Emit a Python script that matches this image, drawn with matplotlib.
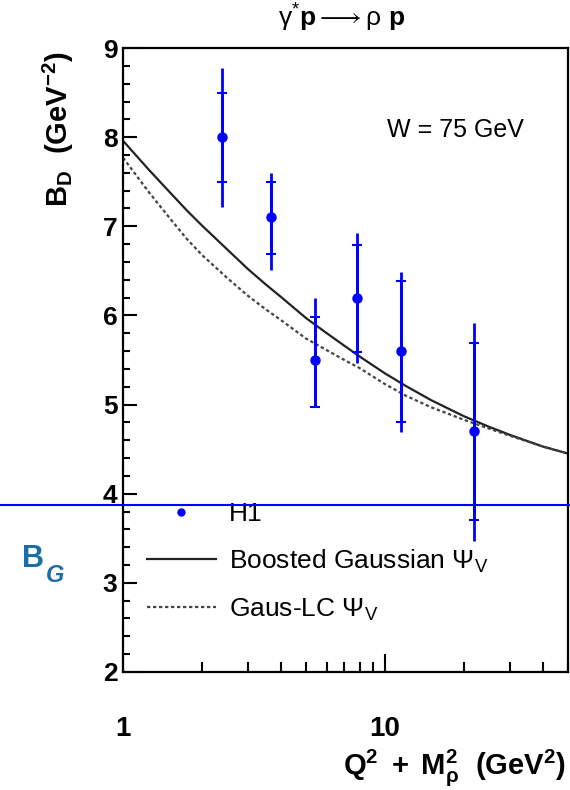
import numpy as np
import matplotlib
matplotlib.use('Agg')
import matplotlib.pyplot as plt
import matplotlib.ticker as ticker
import matplotlib.transforms as mtransforms
from matplotlib.lines import Line2D

plt.rcParams['font.family'] = ['Liberation Sans', 'DejaVu Sans']
plt.rcParams['mathtext.fontset'] = 'custom'
plt.rcParams['mathtext.rm'] = 'Liberation Sans'
plt.rcParams['mathtext.it'] = 'Liberation Sans:italic'
plt.rcParams['mathtext.bf'] = 'Liberation Sans:bold'

# H1 data, W = 75 GeV
q2m2 = [2.39, 3.67, 5.4, 7.8, 11.5, 21.9]
bd = [8.0, 7.1, 5.5, 6.2, 5.6, 4.7]
stat_up = [0.5, 0.4, 0.48, 0.59, 0.79, 0.99]
stat_dn = [0.5, 0.41, 0.53, 0.61, 0.8, 0.99]
tot_up = [0.78, 0.5, 0.7, 0.73, 0.89, 1.22]
tot_dn = [0.78, 0.59, 0.53, 0.73, 0.91, 1.23]

# model curves
model_x = [1, 1.25, 1.5, 1.75, 2, 2.5, 3, 3.5, 4, 5, 6, 7, 8, 10, 12, 15,
           20, 25, 30, 40, 50]
boosted = [7.96, 7.64, 7.39, 7.18, 7.01, 6.74, 6.52, 6.35, 6.21, 5.97, 5.80,
           5.66, 5.54, 5.35, 5.21, 5.05, 4.87, 4.75, 4.66, 4.53, 4.45]
gauslc = [7.77, 7.39, 7.10, 6.86, 6.68, 6.42, 6.22, 6.07, 5.95, 5.74, 5.61,
          5.50, 5.41, 5.23, 5.10, 4.97, 4.83, 4.73, 4.65, 4.53, 4.45]

b_g = 3.87  # B_G level

fig = plt.figure(figsize=(5.7, 7.9), dpi=100)
ax = fig.add_axes([0.2158, 0.1494, 0.7807, 0.7898])

ax.plot(model_x, boosted, color='#222222', lw=1.6)
ax.plot(model_x, gauslc, color='#444444', lw=1.6, ls=(0, (1.5, 1.2)))

ax.errorbar(q2m2, bd, yerr=[tot_dn, tot_up], fmt='none', ecolor='#0000ff',
            elinewidth=2, capsize=0)
ax.errorbar(q2m2, bd, yerr=[stat_dn, stat_up], fmt='o', color='#0000ff',
            ms=6.5, elinewidth=2, capsize=3.5, capthick=1.5)

ax.set_xscale('log')
ax.set_xlim(1, 50)
ax.set_ylim(2, 9)

ax.xaxis.set_major_locator(ticker.FixedLocator([1, 10]))
ax.xaxis.set_minor_locator(ticker.LogLocator(base=10, subs=np.arange(2, 10)))
ax.xaxis.set_major_formatter(ticker.FuncFormatter(lambda v, p: '%d' % v))
ax.xaxis.set_minor_formatter(ticker.NullFormatter())
ax.yaxis.set_major_locator(ticker.MultipleLocator(1))
ax.yaxis.set_minor_locator(ticker.MultipleLocator(0.2))

ax.tick_params(axis='both', which='both', direction='in', width=1.5,
               top=False, right=False)
ax.tick_params(axis='y', which='major', length=10, labelsize=19, pad=4)
ax.tick_params(axis='y', which='minor', length=5)
ax.tick_params(axis='x', which='major', length=13, labelsize=20, pad=32)
ax.tick_params(axis='x', which='minor', length=7)
for lab in ax.get_xticklabels() + ax.get_yticklabels():
    lab.set_fontweight('bold')
for s in ax.spines.values():
    s.set_linewidth(1.6)

ax.set_ylabel(r'$\mathbf{B_D\ \ (GeV^{-2})}$', fontsize=21)
ax.yaxis.set_label_coords(-0.105, 0.87)
fig.text(0.993, 0.028, r'$\mathbf{Q^2\ +\ M_\rho^2\ \ (GeV^2)}$', fontsize=21,
         ha='right', va='center')

fig.text(0.6, 0.977, r'$\mathrm{\gamma}^{*}\mathbf{p} \longrightarrow \mathrm{\rho}\ \mathbf{p}$',
         fontsize=19, ha='center', va='center')
ax.text(0.746, 0.869, 'W = 75 GeV', transform=ax.transAxes, fontsize=18,
        ha='center', va='center')

# B_G line across the full width
trans = mtransforms.blended_transform_factory(fig.transFigure, ax.transData)
fig.add_artist(Line2D([0, 1], [b_g, b_g], transform=trans, color='#0000ff', lw=1.5))
fig.text(0.038, 0.292, 'B', color='#1a6ea8', fontsize=22, fontweight='bold',
         ha='left', va='center')
fig.text(0.081, 0.272, 'G', color='#1a6ea8', fontsize=17, fontweight='bold',
         style='italic', ha='left', va='center')

handles = [Line2D([], [], color='#0000ff', marker='o', ms=5, ls='none'),
           Line2D([], [], color='#222222', lw=1.6),
           Line2D([], [], color='#444444', lw=1.6, ls=(0, (1.5, 1.2)))]
labels = ['H1', r'Boosted Gaussian $\Psi_\mathrm{V}$', r'Gaus-LC $\Psi_\mathrm{V}$']
ax.legend(handles, labels, loc='upper left', bbox_to_anchor=(147 / 570, 1 - 502 / 790),
          bbox_transform=fig.transFigure, frameon=False, fontsize=19,
          handlelength=2.6, handletextpad=0.5, labelspacing=0.82,
          borderpad=0, borderaxespad=0)

fig.savefig('out.png', dpi=100)
